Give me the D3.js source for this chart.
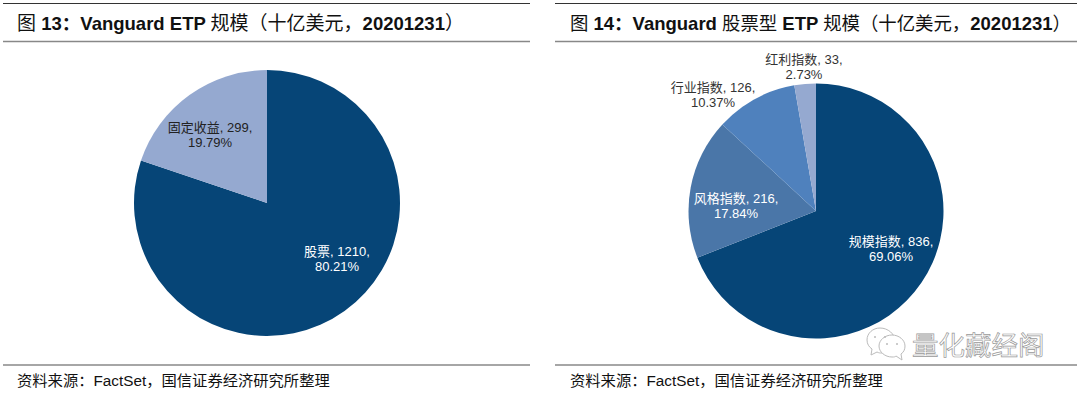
<!DOCTYPE html>
<html>
<head>
<meta charset="utf-8">
<script src="https://cdn.jsdelivr.net/npm/d3@7"></script>
<style>
  html, body { margin: 0; padding: 0; background: #fff; }
  svg { display: block; }
  text { font-family: "Liberation Sans", "Noto Sans CJK SC", sans-serif; }
</style>
</head>
<body>
<svg id="chart" width="1080" height="393"></svg>
<script>
// data
var categories13 = ["股票", "固定收益"];
var values13 = [1210, 299];
var percents13 = ["80.21%", "19.79%"];

var categories14 = ["规模指数", "风格指数", "行业指数", "红利指数"];
var values14 = [836, 216, 126, 33];
var percents14 = ["69.06%", "17.84%", "10.37%", "2.73%"];

var svg = d3.select("#chart");

var panels = [
  {
    x0: 3, x1: 530, titleX: 17, cjkSize: 19, cx: 267, cy: 203, r: 133,
    title: [["图 ", 0], ["13：Vanguard ETP ", 1], ["规模（十亿美元，", 0], ["20201231", 1], ["）", 0]],
    categories: categories13, values: values13, percents: percents13,
    colors: ["#064577", "#95a9d0"],
    textColors: ["#fff", "#222"],
    labelPos: [[337, 251], [210, 127]]
  },
  {
    x0: 555, x1: 1077, titleX: 570, cjkSize: 18.4, cx: 816, cy: 211, r: 127.5,
    title: [["图 ", 0], ["14：Vanguard ", 1], ["股票型 ", 0], ["ETP ", 1], ["规模（十亿美元，", 0], ["20201231", 1], ["）", 0]],
    categories: categories14, values: values14, percents: percents14,
    colors: ["#064577", "#4a76a8", "#4f81bd", "#95a9d0"],
    textColors: ["#fff", "#fff", "#333", "#333"],
    labelPos: [[891, 241], [736, 198], [713, 87], [804, 59]]
  }
];

var pie = d3.pie().sort(null).value(function (d) { return d; });

panels.forEach(function (p) {
  // header and footer rules
  svg.append("line").attr("x1", p.x0).attr("x2", p.x1).attr("y1", 3.5).attr("y2", 3.5)
    .attr("stroke", "#333").attr("stroke-width", 1);
  svg.append("line").attr("x1", p.x0).attr("x2", p.x1).attr("y1", 41.5).attr("y2", 41.5)
    .attr("stroke", "#888").attr("stroke-width", 1.5);
  svg.append("line").attr("x1", p.x0).attr("x2", p.x1).attr("y1", 365).attr("y2", 365)
    .attr("stroke", "#888").attr("stroke-width", 1.5);

  var title = svg.append("text").attr("x", p.titleX).attr("y", 30)
    .attr("font-size", 18.5).attr("fill", "#111");
  p.title.forEach(function (t) {
    var span = title.append("tspan").text(t[0]);
    if (t[1]) {
      span.attr("font-weight", "bold");
    } else {
      span.attr("font-size", p.cjkSize);
    }
  });

  svg.append("text").attr("x", p.titleX).attr("y", 386)
    .attr("font-size", 15.3).attr("fill", "#111")
    .text("资料来源：FactSet，国信证券经济研究所整理");

  var arc = d3.arc().innerRadius(0).outerRadius(p.r);
  var g = svg.append("g").attr("transform", "translate(" + p.cx + "," + p.cy + ")");
  g.selectAll("path").data(pie(p.values)).enter().append("path")
    .attr("d", arc)
    .attr("fill", function (d, i) { return p.colors[i]; });

  p.categories.forEach(function (c, i) {
    var label = svg.append("text")
      .attr("text-anchor", "middle").attr("font-size", 13)
      .attr("fill", p.textColors[i]);
    label.append("tspan").attr("x", p.labelPos[i][0]).attr("y", p.labelPos[i][1] + 5)
      .text(c + ", " + p.values[i] + ",");
    label.append("tspan").attr("x", p.labelPos[i][0]).attr("y", p.labelPos[i][1] + 20)
      .text(p.percents[i]);
  });
});

// watermark, bottom right
var mark = svg.append("g").attr("fill", "#fff").attr("stroke", "#bbb").attr("stroke-width", 1);
mark.append("path").attr("d", "M880 328c-7 0-13 5-13 12 0 4 2 7 5 9l-1 6 6-3c2 1 3 1 5 1 7 0 13-5 13-12s-7-13-15-13z");
mark.append("path").attr("d", "M892 335c-7 0-13 5-13 11s6 11 13 11c2 0 3 0 4-1l6 4-1-6c3-2 4-5 4-8 0-6-6-11-13-11z");
mark.selectAll("circle").data([[875, 337], [885, 337], [887, 344], [897, 344]]).enter().append("circle")
  .attr("cx", function (d) { return d[0]; }).attr("cy", function (d) { return d[1]; })
  .attr("r", 1).attr("fill", "#bbb").attr("stroke", "none");
svg.append("text").attr("x", 912).attr("y", 355)
  .attr("font-size", 26.5).attr("fill", "#fff").attr("stroke", "#999").attr("stroke-width", 0.7)
  .text("量化藏经阁");
</script>
</body>
</html>
